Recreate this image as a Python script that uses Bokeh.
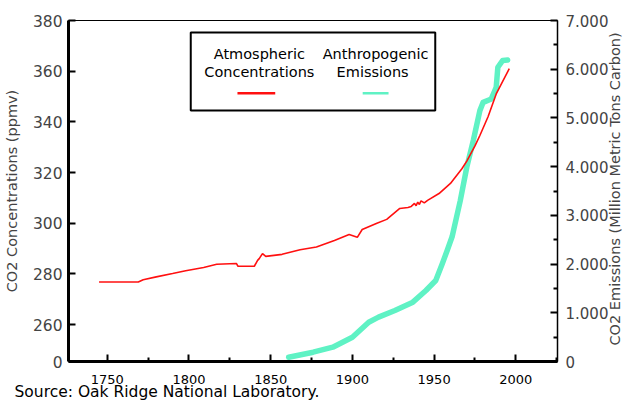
import math
from bokeh.plotting import figure
from bokeh.models import (Range1d, LinearAxis, FixedTicker, Label, BoxAnnotation, Title)
from bokeh.embed import file_html
from bokeh.resources import INLINE

# ---- data ----
co2_years = [1745, 1769, 1772, 1780, 1790, 1798, 1809, 1817, 1829, 1830, 1840, 1842,
             1843, 1845, 1847, 1857, 1868, 1878, 1889, 1898, 1903, 1906, 1915, 1921,
             1929, 1934, 1936, 1938, 1939, 1940, 1941, 1942, 1944, 1946, 1953, 1960,
             1967, 1970, 1975, 1978, 1983, 1988, 1996]
co2_ppmv = [276.8, 276.8, 277.7, 278.8, 280.1, 281.2, 282.5, 283.8, 284.1, 283.0, 283.0, 285.3,
            286.0, 288.0, 286.9, 287.7, 289.5, 290.6, 293.2, 295.5, 294.4, 297.5, 300.0, 301.5,
            305.8, 306.2, 306.6, 307.8, 306.9, 308.3, 307.4, 308.8, 308.0, 309.0, 311.7, 315.7,
            321.5, 324.5, 330.5, 334.6, 342.0, 351.0, 361.0]

em_years = [1861, 1876, 1888, 1900, 1910, 1916, 1926, 1937, 1945, 1951, 1955, 1958,
            1961, 1966, 1970, 1974, 1978, 1980, 1985, 1988, 1989, 1992, 1995]
em_mtc = [88, 191, 294, 499, 807, 910, 1047, 1218, 1458, 1663, 2006, 2279,
          2560, 3300, 3990, 4540, 5150, 5320, 5390, 5630, 6040, 6180, 6190]

x_ticks = [1750, 1800, 1850, 1900, 1950, 2000]
x_minor = [1725, 1775, 1825, 1875, 1925, 1975, 2025]
left_ticks = [260, 280, 300, 320, 340, 360, 380]
right_ticks = [0, 1000, 2000, 3000, 4000, 5000, 6000, 7000]
right_minor = [500, 1500, 2500, 3500, 4500, 5500, 6500]
right_labels = ["0", "1.000", "2.000", "3.000", "4.000", "5.000", "6.000", "7.000"]
right_title = "CO2 Emissions (Million Metric Tons Carbon)"

# ---- geometry (page pixels) ----
W, H = 634, 402
FL, FR, FT, FB = 68, 560, 20, 361
X0, X1 = 1726.3, 2025.5
Y0, Y1 = 245.4, 380.0
E0, E1 = 0, 7000

def dx(cx):
    return X0 + (cx - FL) / (FR - FL) * (X1 - X0)

def dy(cy):
    return Y1 - (cy - FT) / (FB - FT) * (Y1 - Y0)

def de(cy):
    return E1 - (cy - FT) / (FB - FT) * (E1 - E0)

FONT = "DejaVu Sans"
RED = "#FF1010"
AQUA = "#5FF2C4"

p = figure(width=W, height=H, output_backend="svg", toolbar_location=None,
           x_range=Range1d(X0, X1), y_range=Range1d(Y0, Y1),
           min_border_left=FL, min_border_right=W - FR,
           min_border_top=FT, min_border_bottom=H - FB)
p.extra_y_ranges = {"em": Range1d(E0, E1)}
p.grid.visible = False
p.outline_line_color = "black"
p.outline_line_width = 1
p.background_fill_color = "white"
p.border_fill_color = "white"

# bottom axis
xa = p.xaxis[0]
xa.ticker = FixedTicker(ticks=x_ticks, minor_ticks=x_minor)
xa.axis_line_width = 3
xa.major_tick_in = 7
xa.major_tick_out = 0
xa.major_tick_line_width = 2
xa.minor_tick_in = 4
xa.minor_tick_out = 0
xa.minor_tick_line_width = 2
xa.major_label_standoff = 13
xa.major_label_text_font = FONT
xa.major_label_text_font_size = "13px"
xa.major_label_text_color = "black"

# left axis
ya = p.yaxis[0]
ya.ticker = FixedTicker(ticks=[Y0] + left_ticks, minor_ticks=[])
ya.major_label_overrides = {Y0: "0"}
ya.axis_line_width = 3
ya.major_tick_in = 7
ya.major_tick_out = 0
ya.major_tick_line_width = 2
ya.minor_tick_in = 0
ya.minor_tick_out = 0
ya.major_label_standoff = 6
ya.major_label_text_font = FONT
ya.major_label_text_font_size = "15.5px"
ya.axis_label = "CO2 Concentrations (ppmv)"
ya.axis_label_standoff = 10
ya.axis_label_text_font = FONT
ya.axis_label_text_font_style = "normal"
ya.axis_label_text_font_size = "14.5px"

# right axis (ticks and labels)
ra = LinearAxis(y_range_name="em")
ra.ticker = FixedTicker(ticks=right_ticks, minor_ticks=right_minor)
ra.major_label_overrides = {t: s for t, s in zip(right_ticks, right_labels)}
ra.axis_line_width = 1.5
ra.major_tick_in = 7
ra.major_tick_out = 0
ra.major_tick_line_width = 2
ra.minor_tick_in = 4
ra.minor_tick_out = 0
ra.minor_tick_line_width = 2
ra.major_label_standoff = 8
ra.major_label_text_font = FONT
ra.major_label_text_font_size = "15px"
p.add_layout(ra, "right")

# right axis title, reading bottom-to-top: a helper axis whose single tick label
# is the title, starting at the bottom of the title's extent
t0 = round(de(345), 1)
rt = LinearAxis(y_range_name="em")
rt.ticker = FixedTicker(ticks=[t0], minor_ticks=[])
rt.major_label_overrides = {t0: right_title}
rt.major_label_orientation = math.pi / 2
rt.axis_line_color = None
rt.major_tick_line_color = None
rt.minor_tick_line_color = None
rt.major_tick_in = 0
rt.major_tick_out = 0
rt.minor_tick_in = 0
rt.minor_tick_out = 0
rt.major_label_standoff = 4
rt.major_label_text_font = FONT
rt.major_label_text_font_size = "14.5px"
p.add_layout(rt, "right")

# source note below the axis
p.add_layout(Title(text="Source: Oak Ridge National Laboratory.", align="left",
                   offset=-54, standoff=-11, text_font=FONT, text_font_size="15.5px",
                   text_font_style="normal", text_color="black"), "below")

# data lines
p.line(em_years, em_mtc, y_range_name="em", line_color=AQUA, line_width=5.5,
       line_join="round", line_cap="round")
p.line(co2_years, co2_ppmv, line_color=RED, line_width=1.6)

# legend (custom: text above a short swatch)
p.add_layout(BoxAnnotation(left=dx(191), right=dx(437), top=dy(32), bottom=dy(110),
                           fill_alpha=0, line_color="black", line_alpha=1, line_width=2))
p.add_layout(BoxAnnotation(left=dx(238), right=dx(276), top=dy(91.5), bottom=dy(94),
                           fill_color=RED, fill_alpha=1, line_alpha=0))
p.add_layout(BoxAnnotation(left=dx(364), right=dx(390), top=dy(91.5), bottom=dy(94),
                           fill_color=AQUA, fill_alpha=1, line_alpha=0))
for txt, cx, cy in [("Atmospheric", 260, 53), ("Concentrations", 260, 71.5),
                    ("Anthropogenic", 377, 53), ("Emissions", 374, 71.5)]:
    p.add_layout(Label(x=dx(cx), y=dy(cy), text=txt, text_align="center",
                       text_baseline="middle", text_font=FONT,
                       text_font_size="14.5px", text_color="black"))

open("out.html", "w").write(file_html(p, INLINE))
